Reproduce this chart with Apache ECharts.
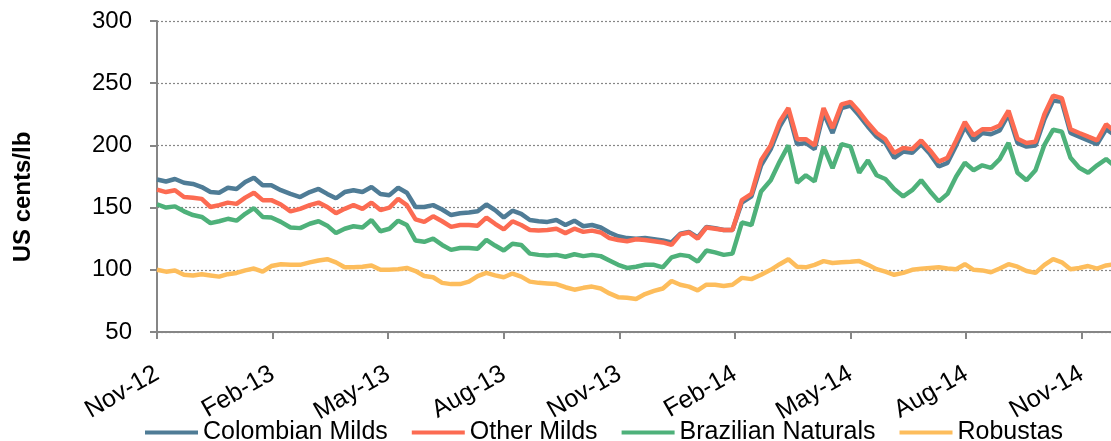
<!DOCTYPE html>
<html>
<head>
<meta charset="utf-8">
<script src="https://cdn.jsdelivr.net/npm/echarts@6/dist/echarts.min.js"></script>
<style>
  html, body { margin: 0; padding: 0; background: #fff; }
  #chart { width: 1111px; height: 441px; }
</style>
</head>
<body>
<div id="chart"></div>
<script>
// weekly samples, starting 1 Nov 2012
var startDate = '2012-11-01';
var tickLabels = ['Nov-12', 'Feb-13', 'May-13', 'Aug-13', 'Nov-13', 'Feb-14', 'May-14', 'Aug-14', 'Nov-14'];
var seriesNames = ['Colombian Milds', 'Other Milds', 'Brazilian Naturals', 'Robustas'];

var colombianMilds = [
    172.6, 171, 173, 170, 169, 166.5, 162.5, 162, 166, 165,
    170.5, 174, 168, 168, 164, 161, 158.5, 162.5, 165, 161,
    157.5, 162.5, 164, 162.5, 166.5, 161, 160, 166, 162, 150.5,
    150.5, 152, 148.5, 144, 145.5, 146, 147, 152.5, 148, 142,
    147.5, 145, 140, 139, 138.5, 140, 136, 139.5, 135, 136,
    134, 130, 127, 125.5, 125, 125.5, 124.5, 123.5, 122, 129,
    130.5, 126, 134.5, 133.5, 132, 132, 154, 159, 184, 197,
    215, 227, 201, 202, 197, 226, 210, 230, 232, 224,
    215, 207, 202, 190, 195, 194, 201, 193, 183, 186,
    200, 215, 204, 210, 209, 212, 225, 202, 199, 200,
    221, 236, 235, 210, 207, 204, 201, 213, 208
];
var otherMilds = [
    164.5, 162.5, 164, 158.5, 158, 157, 150.5, 152, 154, 153,
    158, 162, 156, 156, 152.5, 147, 149, 152, 154, 150.5,
    145.5, 149, 152, 149, 154, 148, 150, 157, 152, 140.5,
    138.5, 143, 139, 134.5, 136, 136, 135.5, 142, 137, 132.5,
    139, 136, 132, 131.5, 132, 133, 129.5, 133, 130.5, 131.5,
    130, 125.5, 124, 123, 124.5, 124, 123, 122, 120, 128.5,
    130, 125, 134, 133, 132, 132, 156, 161, 188, 200,
    219, 230, 205, 205, 200, 230, 214, 233, 235, 227,
    218, 210, 205, 194, 198, 197, 204, 196, 187, 190,
    204, 218.8, 208, 213, 213, 216, 228, 205.4, 202, 203,
    225, 240, 238, 213, 210, 207, 204, 217, 211
];
var brazilianNaturals = [
    152.7, 150, 151, 147, 144, 142.5, 137.5, 139, 141, 139.5,
    145, 149.5, 142.5, 142, 138.5, 134, 133.5, 137, 139, 135.5,
    129.5, 133, 135, 134, 140, 131, 133, 139.5, 136, 123.5,
    122.5, 125, 120, 116, 117.5, 117.5, 117, 124, 119.5, 115.5,
    121, 120, 113, 112, 111.5, 112, 110.5, 112.5, 111, 112,
    111, 107.5, 104, 101.5, 102.5, 104, 104, 102, 110, 112,
    111, 106.5, 115.5, 114, 112, 113, 138, 136, 163, 172,
    187, 200, 170, 176, 171, 199, 181.7, 201, 199, 178,
    188, 176, 173, 165, 159, 164, 172, 163, 155, 161,
    175, 186, 180, 184, 182, 189, 202, 178, 172, 180,
    200.5, 212.6, 211, 190, 182, 178, 184, 189, 183
];
var robustas = [
    100, 98.5, 99.5, 96, 95.5, 96.5, 95.5, 94.5, 96.5, 97.5,
    99.5, 101, 98.5, 103, 104.5, 104, 104, 106, 107.5, 108.5,
    106, 102, 102, 102.5, 103.5, 100, 100, 100.5, 101.5, 99,
    95, 94, 89.5, 88.5, 88.5, 90.5, 95, 97.5, 95.5, 94,
    97, 94.5, 90.5, 89.5, 89, 88.5, 86, 84, 85.5, 86.5,
    85, 81, 78, 77.5, 76.5, 80.5, 83, 85, 91, 88,
    86.5, 83.5, 88, 88, 87, 88, 93.5, 92.5, 96, 100,
    104.5, 108.5, 102.5, 102, 104, 107, 105.5, 106, 106.5, 107,
    104, 100.5, 98.5, 96, 97.5, 100, 100.8, 101.5, 102, 101,
    100.5, 104.5, 100, 99.5, 98, 101, 104.5, 102.5, 99, 97.5,
    104, 108.5, 106, 100.5, 101.5, 103, 101, 103.5, 104.5
];

var colors = ['#4f7c96', '#fc6b52', '#4eb17a', '#fdbd5c'];
var FONT = '"Liberation Sans", Arial, sans-serif';

// months since Nov 2012 (fractional), used as x
function monthOffset(d) {
    var y = d.getUTCFullYear(), m = d.getUTCMonth();
    var days = new Date(Date.UTC(y, m + 1, 0)).getUTCDate();
    return (y - 2012) * 12 + (m - 10) + (d.getUTCDate() - 1) / days;
}

function toPoints(values) {
    var t0 = new Date(startDate + 'T00:00:00Z').getTime();
    var pts = [];
    for (var i = 0; i < values.length; i++) {
        var d = new Date(t0 + i * 7 * 86400000);
        pts.push([monthOffset(d), values[i]]);
    }
    return pts;
}

var allData = [colombianMilds, otherMilds, brazilianNaturals, robustas];
var series = [];
for (var s = 0; s < allData.length; s++) {
    series.push({
        name: seriesNames[s],
        type: 'line',
        data: toPoints(allData[s]),
        showSymbol: false,
        symbol: 'none',
        lineStyle: { width: 4.5, color: colors[s] },
        itemStyle: { color: colors[s] },
        clip: true
    });
}

var myChart = echarts.init(document.getElementById('chart'));
myChart.setOption({
    backgroundColor: '#fff',
    animation: false,
    textStyle: { fontFamily: FONT },
    grid: {
        left: 157,
        right: 0,
        top: 21,
        bottom: 109,
        containLabel: false,
        outerBoundsMode: 'none'
    },
    legend: {
        left: 140,
        top: 415,
        icon: 'rect',
        itemWidth: 53,
        itemHeight: 4,
        itemGap: 24,
        textStyle: { fontFamily: FONT, fontSize: 25, color: '#000' },
        data: seriesNames
    },
    graphic: [{
        type: 'text',
        x: 23,
        y: 197,
        rotation: Math.PI / 2,
        style: {
            text: 'US cents/lb',
            fontFamily: FONT,
            fontSize: 24,
            fontWeight: 'bold',
            fill: '#000',
            align: 'center',
            verticalAlign: 'middle'
        }
    }],
    xAxis: {
        type: 'value',
        min: 0,
        max: 24.76,
        interval: 3,
        axisLine: { show: true, onZero: false, lineStyle: { color: '#868686', width: 2 } },
        axisTick: { show: true, length: 7, lineStyle: { color: '#868686', width: 2 } },
        splitLine: { show: false },
        axisLabel: {
            rotate: 30,
            margin: 40,
            fontSize: 25,
            fontFamily: FONT,
            color: '#000',
            showMaxLabel: false,
            formatter: function (v) {
                if (v % 3 !== 0) return '';
                return tickLabels[v / 3] || '';
            }
        }
    },
    yAxis: {
        type: 'value',
        min: 50,
        max: 300,
        interval: 50,
        axisLine: { show: true, lineStyle: { color: '#868686', width: 2 } },
        axisTick: { show: true, length: 7, lineStyle: { color: '#868686', width: 2 } },
        splitLine: { show: true, lineStyle: { color: '#868686', width: 1.2, type: [2, 2] } },
        axisLabel: {
            margin: 25,
            fontSize: 24,
            fontFamily: FONT,
            color: '#000'
        }
    },
    series: series
});
</script>
</body>
</html>
